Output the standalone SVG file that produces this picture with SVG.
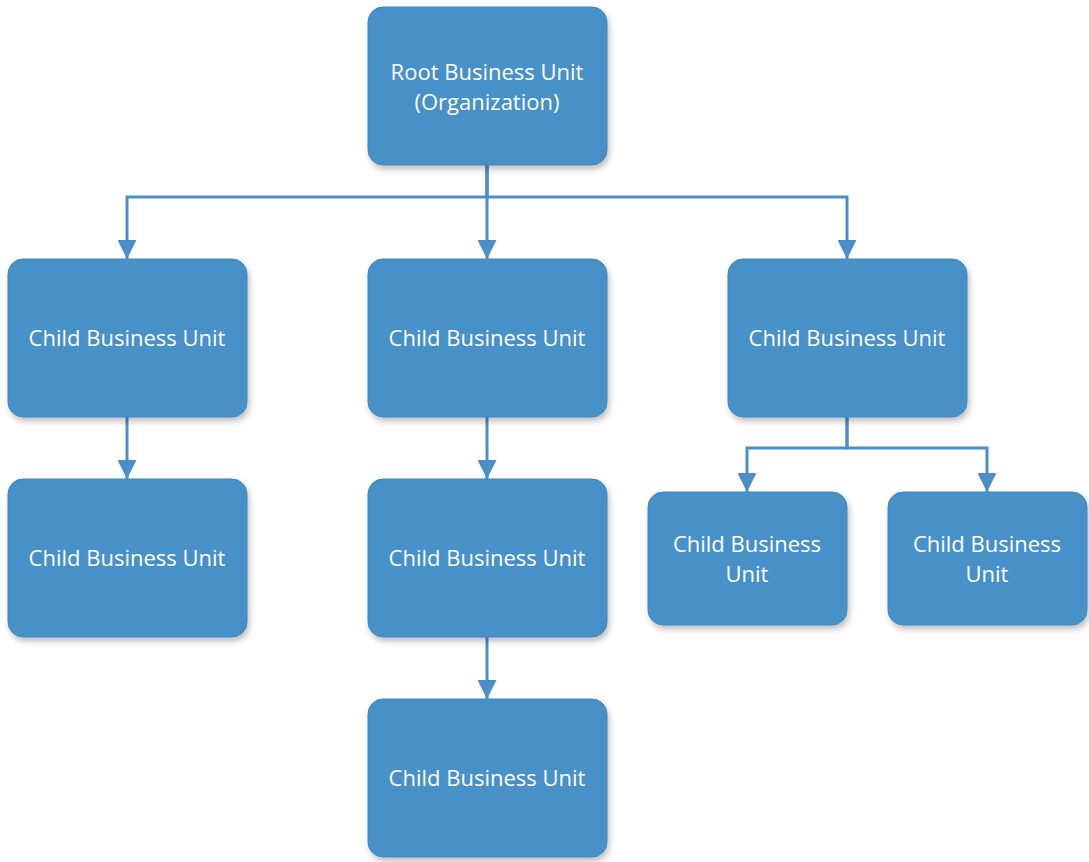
<svg xmlns="http://www.w3.org/2000/svg" width="1089" height="862" viewBox="0 0 1089 862">
  <defs>
    <filter id="shadow" x="-10%" y="-10%" width="125%" height="130%">
      <feGaussianBlur in="SourceAlpha" stdDeviation="3"/>
      <feOffset dx="2" dy="4" result="b"/>
      <feComponentTransfer><feFuncA type="linear" slope="0.25"/></feComponentTransfer>
      <feMerge><feMergeNode/><feMergeNode in="SourceGraphic"/></feMerge>
    </filter>
    <marker id="arrow" viewBox="0 0 19 19" refX="19" refY="9.5" markerWidth="19" markerHeight="19" markerUnits="userSpaceOnUse" orient="auto">
      <path d="M0,0 L19,9.5 L0,19 Z" fill="#4a8fc9"/>
    </marker>
  </defs>
  <style>
    .box { fill: #4690c8; stroke: #3f86bf; stroke-width: 1; filter: url(#shadow); }
    .label { font-family: "Open Sans", "Noto Sans", sans-serif; font-size: 22px; fill: #ffffff; text-anchor: middle; }
    .link { fill: none; stroke: #4a8fc9; stroke-width: 3; marker-end: url(#arrow); }
  </style>
  <rect width="1089" height="862" fill="#ffffff"/>

  <g id="connectors">
    <path class="link" d="M487,165 V197 H127 V259"/>
    <path class="link" d="M487,165 V259"/>
    <path class="link" d="M487,165 V197 H847 V259"/>
    <path class="link" d="M127,417 V479"/>
    <path class="link" d="M487,417 V479"/>
    <path class="link" d="M487,637 V699"/>
    <path class="link" d="M847,417 V448 H747 V492"/>
    <path class="link" d="M847,417 V448 H987 V492"/>
  </g>

  <g id="root">
    <rect class="box" x="368" y="7" width="239" height="158" rx="15"/>
    <text class="label" x="487" y="80">Root Business Unit</text>
    <text class="label" x="487" y="110">(Organization)</text>
  </g>

  <g id="child-a">
    <rect class="box" x="8" y="259" width="239" height="158" rx="15"/>
    <text class="label" x="127" y="346">Child Business Unit</text>
  </g>
  <g id="child-b">
    <rect class="box" x="368" y="259" width="239" height="158" rx="15"/>
    <text class="label" x="487" y="346">Child Business Unit</text>
  </g>
  <g id="child-c">
    <rect class="box" x="728" y="259" width="239" height="158" rx="15"/>
    <text class="label" x="847" y="346">Child Business Unit</text>
  </g>

  <g id="child-a1">
    <rect class="box" x="8" y="479" width="239" height="158" rx="15"/>
    <text class="label" x="127" y="566">Child Business Unit</text>
  </g>
  <g id="child-b1">
    <rect class="box" x="368" y="479" width="239" height="158" rx="15"/>
    <text class="label" x="487" y="566">Child Business Unit</text>
  </g>
  <g id="child-b2">
    <rect class="box" x="368" y="699" width="239" height="158" rx="15"/>
    <text class="label" x="487" y="786">Child Business Unit</text>
  </g>

  <g id="child-c1">
    <rect class="box" x="648" y="492" width="199" height="133" rx="15"/>
    <text class="label" x="747" y="552">Child Business</text>
    <text class="label" x="747" y="582">Unit</text>
  </g>
  <g id="child-c2">
    <rect class="box" x="888" y="492" width="199" height="133" rx="15"/>
    <text class="label" x="987" y="552">Child Business</text>
    <text class="label" x="987" y="582">Unit</text>
  </g>
</svg>
